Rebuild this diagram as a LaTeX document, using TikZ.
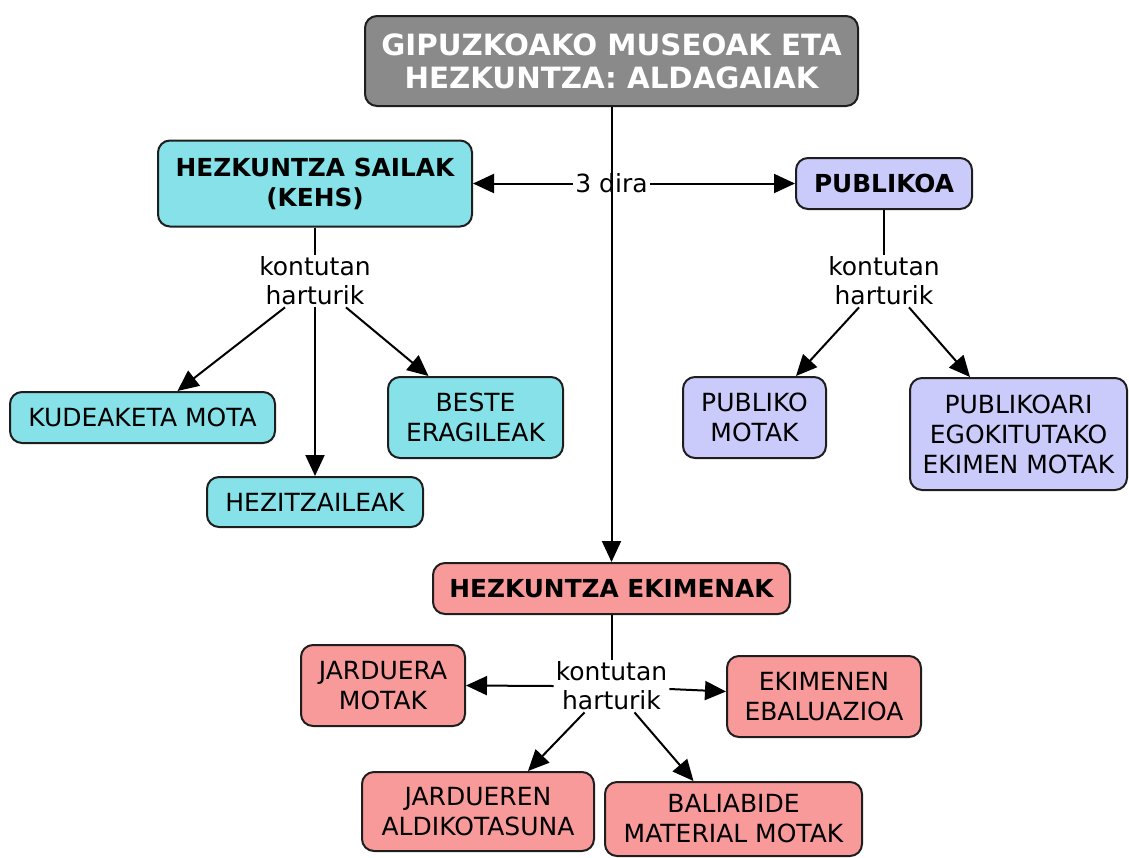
\documentclass[tikz,border=0pt]{standalone}
\usepackage{fontspec}
\setmainfont{DejaVu Sans}
\usetikzlibrary{arrows.meta}
\definecolor{topgray}{HTML}{8A8A8A}
\definecolor{cyanb}{HTML}{86E2E8}
\definecolor{lavb}{HTML}{CACBFA}
\definecolor{salb}{HTML}{F99A9A}
\definecolor{edge}{HTML}{1E1E1E}
\tikzset{
  box/.style={draw=edge, line width=2pt, rounded corners=12pt, align=center, inner sep=0pt,
              font=\fontsize{25}{30}\selectfont},
  boldbox/.style={box, font=\fontsize{24.8}{30}\selectfont\bfseries},
  lbl/.style={align=center, inner sep=2pt, font=\fontsize{25}{29}\selectfont},
  conn/.style={line width=2pt, black},
  arr/.style={conn, -{Triangle[length=21pt,width=19pt]}}
}
\begin{document}
\begin{tikzpicture}[x=1pt,y=-1pt]
\useasboundingbox (0,0) rectangle (1129,857);
% nodes
\node[boldbox, fill=topgray, text=white, minimum width=493pt, minimum height=90pt,
      font=\fontsize{29.3}{33}\selectfont\bfseries] (top) at (611.5,61) {GIPUZKOAKO MUSEOAK ETA\\HEZKUNTZA: ALDAGAIAK};
\node[boldbox, fill=cyanb, minimum width=314pt, minimum height=86pt] (kehs) at (315,183.5) {HEZKUNTZA SAILAK\\(KEHS)};
\node[boldbox, fill=lavb, minimum width=176pt, minimum height=51pt] (pub) at (884,183.5) {PUBLIKOA};
\node[lbl] (n3) at (611.5,183.5) {3 dira};

\node[lbl] (k1) at (315,281) {kontutan\\harturik};
\node[box, fill=cyanb, minimum width=265pt, minimum height=51pt] (kud) at (142.5,417.5) {KUDEAKETA MOTA};
\node[box, fill=cyanb, minimum width=216pt, minimum height=50pt] (hez) at (315,502) {HEZITZAILEAK};
\node[box, fill=cyanb, minimum width=175pt, minimum height=81pt] (best) at (475.5,417.5) {BESTE\\ERAGILEAK};

\node[lbl] (k2) at (884,281) {kontutan\\harturik};
\node[box, fill=lavb, minimum width=143pt, minimum height=81pt] (pm) at (754.5,417.5) {PUBLIKO\\MOTAK};
\node[box, fill=lavb, minimum width=217pt, minimum height=112pt] (pe) at (1018.5,434) {PUBLIKOARI\\EGOKITUTAKO\\EKIMEN MOTAK};

\node[boldbox, fill=salb, minimum width=357pt, minimum height=51pt] (ekim) at (611.5,588.5) {HEZKUNTZA EKIMENAK};
\node[lbl] (k3) at (611.5,686) {kontutan\\harturik};
\node[box, fill=salb, minimum width=164pt, minimum height=81pt] (jm) at (383,685.5) {JARDUERA\\MOTAK};
\node[box, fill=salb, minimum width=194pt, minimum height=81pt] (ee) at (824,696.5) {EKIMENEN\\EBALUAZIOA};
\node[box, fill=salb, minimum width=232pt, minimum height=79pt] (jal) at (478,811.5) {JARDUEREN\\ALDIKOTASUNA};
\node[box, fill=salb, minimum width=257pt, minimum height=74pt] (bal) at (733.5,819) {BALIABIDE\\MATERIAL MOTAK};

% connectors
\draw[arr] (top.south) -- (ekim.north);
\draw[arr] (n3.west) -- (kehs.east);
\draw[arr] (n3.east) -- (pub.west);

\draw[conn] (kehs.south) -- (k1.north);
\draw[arr] ([xshift=-30pt]k1.south) -- ([xshift=35pt]kud.north);
\draw[arr] (k1.south) -- (hez.north);
\draw[arr] ([xshift=31pt]k1.south) -- ([xshift=-47pt]best.north);

\draw[conn] (pub.south) -- (k2.north);
\draw[arr] ([xshift=-25pt]k2.south) -- ([xshift=41.5pt]pm.north);
\draw[arr] ([xshift=25pt]k2.south) -- ([xshift=-48.5pt]pe.north);

\draw[conn] (ekim.south) -- (k3.north);
\draw[arr] (k3.west) -- (jm.east);
\draw[arr] ([yshift=-3pt]k3.east) -- ([yshift=5pt]ee.west);
\draw[arr] ([xshift=-27pt]k3.south) -- ([xshift=50pt]jal.north);
\draw[arr] ([xshift=23pt]k3.south) -- ([xshift=-40pt]bal.north);
\end{tikzpicture}
\end{document}
